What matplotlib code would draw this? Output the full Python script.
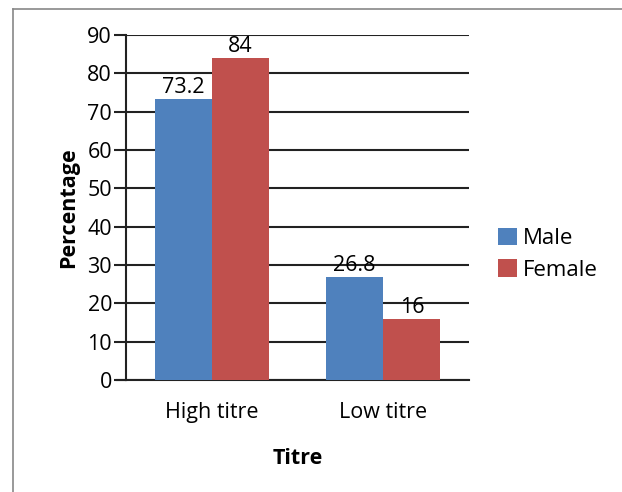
import matplotlib
matplotlib.use("Agg")
import matplotlib.pyplot as plt
from matplotlib.lines import Line2D
import numpy as np

categories = ["High titre", "Low titre"]
series_names = ["Male", "Female"]
male = [73.2, 26.8]
female = [84, 16]
male_labels = ["73.2", "26.8"]
female_labels = ["84", "16"]
yticks = [0, 10, 20, 30, 40, 50, 60, 70, 80, 90]

plt.rcParams['font.family'] = ['Open Sans', 'DejaVu Sans']

fig = plt.figure(figsize=(6.22, 4.92), dpi=100)
ax = fig.add_axes([126/622, 1-380/492, (469-126)/622, (380-35)/492])

x = np.arange(len(categories))
w = 0.333
colors = ["#4F81BD", "#C0504D"]
b1 = ax.bar(x - w/2, male, w, color=colors[0], label=series_names[0], zorder=3)
b2 = ax.bar(x + w/2, female, w, color=colors[1], label=series_names[1], zorder=3)

for bars, labs in ((b1, male_labels), (b2, female_labels)):
    for r, l in zip(bars, labs):
        ax.text(r.get_x() + r.get_width()/2, r.get_height() + 0.3, l,
                ha='center', va='bottom', fontsize=15.5, zorder=4)

ax.set_xlim(-0.5, 1.5)
ax.set_ylim(0, 90)
ax.set_yticks(yticks)
ax.set_yticklabels([str(t) for t in yticks], fontsize=15.5)
ax.set_xticks(x)
ax.set_xticklabels(categories, fontsize=15.5)
ax.tick_params(axis='x', length=0, pad=16)
ax.tick_params(axis='y', length=9, width=1.5, direction='out', pad=1, color='#222222')
ax.grid(axis='y', color='#222222', linewidth=1.5, zorder=1)
for s in ['top', 'right']:
    ax.spines[s].set_visible(False)
ax.spines['left'].set_linewidth(1.5)
ax.spines['left'].set_color('#222222')
ax.spines['bottom'].set_linewidth(1.5)
ax.spines['bottom'].set_color('#222222')
ax.spines['bottom'].set_bounds(-0.5, 1.5)

ax.set_ylabel("Percentage", fontsize=15.5, fontweight='bold', labelpad=6)
ax.set_xlabel("Titre", fontsize=15.5, fontweight='bold', labelpad=18)

ax.add_line(Line2D([117/622, 126/622], [1-380/492, 1-380/492], transform=fig.transFigure,
                   color='#222222', linewidth=1.5, clip_on=False))

leg = ax.legend(loc='center left', bbox_to_anchor=(1.058, 0.365), frameon=False,
                fontsize=16, handlelength=0.85, handleheight=0.85, handletextpad=0.3,
                labelspacing=0.45, borderaxespad=0)

fig.add_artist(Line2D([13/622, 13/622], [0, 1-9/492], transform=fig.transFigure,
                      color='#888888', linewidth=1.2))
fig.add_artist(Line2D([13/622, 1], [1-9/492, 1-9/492], transform=fig.transFigure,
                      color='#888888', linewidth=1.2))

fig.savefig("out.png", dpi=100)
